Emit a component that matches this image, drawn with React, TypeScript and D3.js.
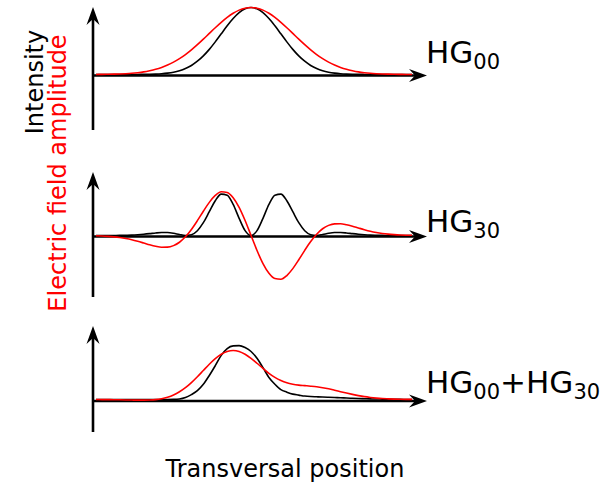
import React from "react";
import * as d3 from "d3";

// Transversal position samples (arbitrary units)
const positions = [
  -2.6, -2.5, -2.4, -2.3, -2.2, -2.1, -2.0, -1.9, -1.8, -1.7, -1.6, -1.5, -1.4, -1.3,
  -1.2, -1.1, -1.0, -0.9, -0.8, -0.7, -0.6, -0.5, -0.4, -0.3, -0.2, -0.1, 0.0,
  0.1, 0.2, 0.3, 0.4, 0.5, 0.6, 0.7, 0.8, 0.9, 1.0, 1.1, 1.2, 1.3, 1.4, 1.5, 1.6,
  1.7, 1.8, 1.9, 2.0, 2.1, 2.2, 2.3, 2.4, 2.5, 2.6, 2.7,
];

// HG00
const field00 = [
  0.001, 0.002, 0.003, 0.005, 0.008, 0.012, 0.018, 0.027, 0.039, 0.056, 0.077, 0.105, 0.141, 0.185,
  0.237, 0.298, 0.368, 0.445, 0.527, 0.613, 0.698, 0.779, 0.852, 0.914, 0.961, 0.99, 1.0,
  0.99, 0.961, 0.914, 0.852, 0.779, 0.698, 0.613, 0.527, 0.445, 0.368, 0.298, 0.237, 0.185, 0.141, 0.105, 0.077,
  0.056, 0.039, 0.027, 0.018, 0.012, 0.008, 0.005, 0.003, 0.002, 0.001, 0.001,
];
const intensity00 = [
  0, 0, 0, 0, 0, 0, 0, 0.001, 0.002, 0.003, 0.006, 0.011, 0.02, 0.034,
  0.056, 0.089, 0.135, 0.198, 0.278, 0.375, 0.487, 0.607, 0.726, 0.835, 0.923, 0.98, 1.0,
  0.98, 0.923, 0.835, 0.726, 0.607, 0.487, 0.375, 0.278, 0.198, 0.135, 0.089, 0.056, 0.034, 0.02, 0.011, 0.006,
  0.003, 0.002, 0.001, 0, 0, 0, 0, 0, 0, 0, 0,
];

// HG30
const field30 = [
  -0.007, -0.012, -0.02, -0.031, -0.047, -0.069, -0.097, -0.132, -0.171, -0.211, -0.245, -0.267, -0.265, -0.23,
  -0.153, -0.03, 0.137, 0.337, 0.552, 0.753, 0.91, 0.993, 0.979, 0.86, 0.64, 0.341, 0,
  -0.341, -0.64, -0.86, -0.979, -0.993, -0.91, -0.753, -0.552, -0.337, -0.137, 0.03, 0.153, 0.23, 0.265, 0.267, 0.245,
  0.211, 0.171, 0.132, 0.097, 0.069, 0.047, 0.031, 0.02, 0.012, 0.007, 0.004,
];
const intensity30 = [
  0, 0, 0, 0.001, 0.002, 0.005, 0.009, 0.017, 0.028, 0.042, 0.058, 0.068, 0.067, 0.051,
  0.022, 0.001, 0.018, 0.109, 0.291, 0.541, 0.79, 0.941, 0.916, 0.706, 0.391, 0.111, 0,
  0.111, 0.391, 0.706, 0.916, 0.941, 0.79, 0.541, 0.291, 0.109, 0.018, 0.001, 0.022, 0.051, 0.067, 0.068, 0.058,
  0.042, 0.028, 0.017, 0.009, 0.005, 0.002, 0.001, 0, 0, 0, 0,
];

// HG00 + HG30
const fieldSum = [
  -0.001, -0.002, -0.003, -0.004, -0.006, -0.009, -0.011, -0.013, -0.013, -0.01, -0.002, 0.016, 0.047, 0.093,
  0.158, 0.242, 0.346, 0.465, 0.592, 0.719, 0.833, 0.923, 0.981, 1.001, 0.981, 0.924, 0.84,
  0.74, 0.634, 0.535, 0.451, 0.386, 0.34, 0.312, 0.294, 0.283, 0.272, 0.259, 0.241, 0.218, 0.19, 0.16, 0.131,
  0.104, 0.079, 0.058, 0.042, 0.029, 0.019, 0.013, 0.008, 0.005, 0.003, 0.002,
];
const intensitySum = [
  0, 0, 0, 0, 0, 0, 0, 0, 0, 0, 0, 0, 0, 0.002,
  0.01, 0.04, 0.1, 0.18, 0.31, 0.49, 0.69, 0.9, 1.04, 1.095, 1.1, 1.06, 0.98,
  0.84, 0.65, 0.45, 0.31, 0.2, 0.15, 0.11, 0.09, 0.07, 0.06, 0.055, 0.05, 0.045, 0.04, 0.036, 0.03,
  0.025, 0.02, 0.016, 0.012, 0.01, 0.008, 0.006, 0.004, 0.002, 0.001, 0,
];

const modeLabels = [
  [{ t: "HG", sub: false }, { t: "00", sub: true }],
  [{ t: "HG", sub: false }, { t: "30", sub: true }],
  [
    { t: "HG", sub: false }, { t: "00", sub: true }, { t: "+", sub: false },
    { t: "HG", sub: false }, { t: "30", sub: true },
  ],
];

const FONT = "DejaVu Sans";
const RED = "#ff0000";

const panels = [
  { base: 74.5, axisY: 75.5, top: 7, bottom: 130, amp: 67, field: field00, intensity: intensity00, labelY: 63 },
  { base: 235.5, axisY: 236.5, top: 172, bottom: 297, amp: 44, field: field30, intensity: intensity30, labelY: 232 },
  { base: 399.5, axisY: 401, top: 326, bottom: 432, amp: 49, field: fieldSum, intensity: intensitySum, labelY: 393 },
];

const AX = 93;
const TIP = 427;
const AL = 18, AW = 6.5, AN = 6;

function arrowRight(tx: number, ty: number) {
  return `M${tx},${ty} L${tx - AL},${ty - AW} L${tx - AL + AN},${ty} L${tx - AL},${ty + AW} Z`;
}
function arrowUp(tx: number, ty: number) {
  return `M${tx},${ty} L${tx - AW},${ty + AL} L${tx},${ty + AL - AN} L${tx + AW},${ty + AL} Z`;
}

export default function App() {
  const x = d3.scaleLinear().domain([-2.65, 2.95]).range([AX, TIP]);

  return (
    <svg width={610} height={490} style={{ position: "absolute", left: 0, top: 0 }}>
      <rect x={0} y={0} width={610} height={490} fill="#fff" />
      {panels.map((p, i) => {
        const y = d3.scaleLinear().domain([0, 1]).range([p.base, p.base - p.amp]);
        const line = d3
          .line<number>()
          .x((_, j) => x(positions[j]))
          .y((v) => y(v))
          .curve(d3.curveMonotoneX);
        return (
          <g key={i}>
            <line x1={AX} y1={p.bottom} x2={AX} y2={p.top + AL - AN} stroke="#000" strokeWidth={2.6} />
            <path d={arrowUp(AX, p.top)} fill="#000" />
            <line x1={AX} y1={p.axisY} x2={TIP - AL + AN} y2={p.axisY} stroke="#000" strokeWidth={2.6} />
            <path d={arrowRight(TIP, p.axisY)} fill="#000" />
            <path d={line(p.intensity) || ""} fill="none" stroke="#000" strokeWidth={1.6} />
            <path d={line(p.field) || ""} fill="none" stroke={RED} strokeWidth={1.6} />
            <text x={426} y={p.labelY} fontFamily={FONT} fontSize={31} fill="#000">
              {modeLabels[i].map((s, k) => {
                const prev = k > 0 ? modeLabels[i][k - 1].sub : false;
                const dy = s.sub && !prev ? 6 : !s.sub && prev ? -6 : 0;
                return (
                  <tspan key={k} dy={dy} fontSize={s.sub ? 21 : 31}>
                    {s.t}
                  </tspan>
                );
              })}
            </text>
          </g>
        );
      })}
      <text
        transform="translate(43,82) rotate(-90)"
        textAnchor="middle"
        fontFamily={FONT}
        fontSize={24}
        fill="#000"
      >
        Intensity
      </text>
      <text
        transform="translate(66,173) rotate(-90)"
        textAnchor="middle"
        fontFamily={FONT}
        fontSize={24}
        fill={RED}
      >
        Electric field amplitude
      </text>
      <text x={285} y={477} textAnchor="middle" fontFamily={FONT} fontSize={24} fill="#000">
        Transversal position
      </text>
    </svg>
  );
}
